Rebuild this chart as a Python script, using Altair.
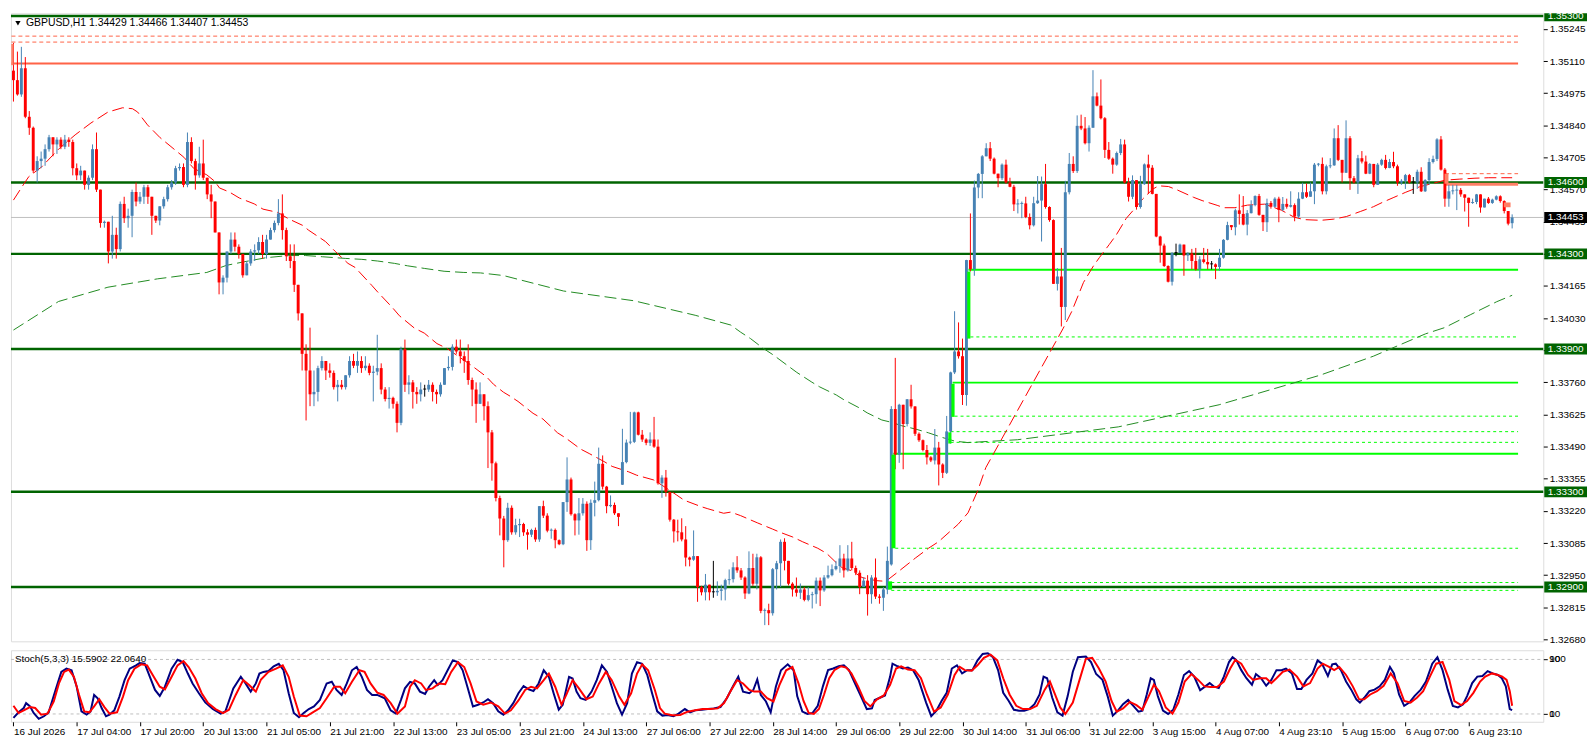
import altair as alt
import pandas as pd

# ---------------- data (prices in pips above 1.3000) ----------------
CLOSE = [
503,497,508,487.6,483,465,469,470,474,479,476,478,475,478,477,466,463,465,459,462,
474,457,443,443.5,431,438,432,451,445,446,456,452,454,458,454,446,444,450,453,458,
460,466,466.5,459,477,469,463,468,462,455,452,439,418,420,431,436,433,430,421,426,
431,431.5,435,430,436,440,443,447,440,429,427,417,405,388,381,371,372,382,385,381,
380,374,375,374,379,385,383,385,382,383,380,380.5,382,373,369,369.5,367,359,390,375,
376,372,371,373,373,375,372,371,375,382,382.5,391,389,387,385,377,373,367,371,366,
355,342,327.4,318.8,309.7,323.3,313,316,316.5,313,312,314,310,324,320,313.7,314,309.7,308,325.7,
335.2,320.6,318,321,325,309.7,325.4,326.5,341.8,332.2,324,324.5,321,319.5,342.5,350.7,351,363.4,354,352,
350.6,352,349,333.6,336,330,318.3,313.4,313,310,302.4,301.5,303,290,287.8,291,287.8,287.8,288.4,289,
292.9,293.3,298.3,297,294,287.3,298,291.4,302.5,280,280.3,279,297.5,300,309,301,291.4,289,287.6,289,
284.6,286.6,287,292.7,288.6,294,295,297.5,298.8,302,297,302,298,296,290,292.7,287,294,286,285.5,
289,301,364.8,345.6,366.6,358.5,368.9,365.9,354.4,351.7,347.6,344.5,343.2,348.6,341.5,338,355.4,380.2,389,387,
370.7,427.4,423.6,457.9,463.6,471,474.4,470,463.7,461.8,467.5,460,458.2,450.8,451,451.2,445.5,442,451.3,452.4,
459.3,449.7,444.2,417.4,420.5,407.7,455.9,467.8,464.8,483.8,482.7,476.5,483,496.2,492.3,487,473.7,470,467.5,472.4,
476,460,454,461,449.7,459.3,467.6,466.2,455.2,437.3,433.5,424.9,418.3,430.4,430.4,433.9,429.3,430.2,427,423.5,
427.7,426.6,425.6,425.6,424.5,428.4,435.9,442.1,441.2,448.3,446.8,442.3,447.1,450.5,454.3,446.4,443.3,451.4,449.8,453.2,
448.5,451,449.8,450.5,445.7,453.2,455.9,454,456.3,467.5,467.8,456.3,466.8,467.2,478.6,469.5,464.1,478.6,461.8,460,
470.2,468.8,463.7,467.8,459,467.5,469.5,466.1,468.6,466.8,460,460.7,463.1,460,460,464.5,456.3,461,468.6,469.9,
478.1,465.4,453.2,456.3,456.6,456.9,455,453.6,451.4,451.8,455,449.5,453.2,451.4,452.8,454.2,452.2,448,442.7,445.3]

HIGH = [
518.6,515,517,512.7,490,483.5,471,473,476,480,479,479,479,480,479,478,468,467,465,463,
476,481,457,444,443,446,441,452,454,449,457,460,456,459,459,454,446,450,454,459,
461,467,468,468,481,479,470,475,478,462,459,452,439,421,431,439,439,434,429,427,
432,434,437,438,438,441,444,453,455,441,434,434,417,405,392,399,381,383,387,385,
384,381,377,377,379,387,388,389,387,387,384,383,396,384,374,374,370,368,391,394,
379,377,374,376,375,377,376,373,376,382,387,392,394,394,389,392,378,376,376,371,
368,356,342.7,328.4,319.9,325.4,324.3,318.7,318.7,317,314.3,314.5,315,324,326.3,321,314.6,314.6,310,325.7,
344.5,336,321,327.4,327.4,326,326.8,334.3,348.6,345.3,332.5,328.5,325.5,320.5,356.5,352,363.6,363.7,363.7,356,
352.5,355,361.5,352,337,339.2,330,318.6,318.3,318.9,315.6,302.8,313.8,303,290.5,295.5,291,301,292.4,291,
293.5,297.4,300.4,303,298,294.5,305,304,304,303,281,283,298,301,310,310.5,301,292,294,291.5,
290,290,288,294,294,295,299,299.5,301,307.6,304,307.6,309,299,297,294,295,295,302,287,
290,307,366,386.3,367,366.6,369,375,366,355,352,349.7,345,356.4,351,342,361.9,380.5,405.9,401.2,
394.4,427.5,447,460.8,464,471.5,476.5,477,470.5,463.7,468,469.6,462,459,453,452,454,447,454,462.7,
462.5,467.8,450,444.5,424,432.5,460.7,472.4,471,488.2,488.5,487.5,484,507.2,497.8,503.3,487.5,477,470.5,473,
478.3,478,462,463,454.5,462.8,468,471.7,467.3,455.2,437.6,434.3,425.2,430.7,434.3,434.3,432.5,430.7,432.1,432.5,
429,432.5,432.1,427,426,432.1,436.2,443.5,442.1,449,455,454.3,448.4,452.5,454.6,455.2,446.4,453.2,452.2,453.8,
454,453.9,453.2,456.3,451.2,455.9,459.9,459.6,460,468.2,468.2,470.5,467.5,470.2,482.7,484.1,469.5,486.1,479.5,462.7,
471.6,473.2,471.3,468.2,467,468.2,470,471.6,469.9,472.9,467.5,461.4,463.6,463.6,462.3,465.4,466.4,461.4,470.2,471.3,
478.6,479.5,466.1,459,459,459,457.7,455,453.2,453.2,455.2,455,453.2,453.9,453.2,454.6,454.6,452.5,448,446.6]

LOW = [
494,496.5,496,487,480,464,460,466,467,473,471,472,474,474,475,463,461,461,457,457,
461,456,441,441,426,428,428,431,443,441,437,450,451,451,451,438,443,442,449,452,
457,459,465,458,458,468,457,462,461,453,445,439,413,413,418,430,431,428,420,422,
425,427,430,428,428,436,439,442,436,427,424,414,402,381,360,366,366,368,381,377,
378,373,368,373,373,378,382,380,380,381,379,368,379,371,368,365,365,355,358,372,
371,365,367,368,370,372,368,367,370,375,381,381,388,384,380,375,366,359,367,360,
340,334.7,326,311.7,298.3,309,312,312,311,311.5,305.7,311,309,309,319,313,310.3,306.3,307.6,307.6,
321.6,320,311.7,312,320,305.2,305.6,319.7,326,331,321,323.5,320.3,315.6,332.9,342,350,350.5,353.7,351,
349.6,349.3,348.5,333,327.5,328,317.5,308.7,309.2,309.2,298.7,298.7,301,283.8,286.5,284.4,284.4,285.5,286.3,284.4,
284.4,291,291.9,296,293,285,287,290.5,289,279,274,274,278,289,290,297,290.7,286,286,285,
284,284,281,283,282,288,293.5,294.5,297,296,294,296.5,297,295,287,290,278,283,285,283,
280,287,299,339.5,342.2,339.5,357.5,365,353.5,351,347,341.5,342.5,341.5,332.7,335.8,337.5,350.3,379.5,386,
366.5,366.2,422.6,420.8,453.4,453.4,473,469,463.4,458,461,459.5,458,448,447,445,445,440.3,441.5,451,
435.2,449,443.5,417.4,414.6,399.5,402.2,455,464,464,482,476,473,483,492,486.5,470.3,469.5,463.7,467,
471.5,459.5,452,453,448.6,449,459,455.2,455,437,426.3,424.5,418,416.7,429,430.4,420.8,427,423.5,423,
419.7,426,423.5,423.5,419.4,422.9,428,435.7,440,437.8,442.3,442,437.8,447,450,446,439.6,439.2,449,449.5,
443.3,448,449,449.5,443.7,445,453,453.5,454,450.9,466.8,455,455,466,467,469,460,464,456.9,459.5,
455.2,468,463.5,463.5,458,459,467,465.5,466,466,458.6,459,457.3,459.5,455.2,457.3,456,456,459,468,
469,465,449.8,449.8,455,448.4,454,447.8,441.4,451,450.9,447.3,449.5,451,451,452.5,451.5,447,442,440.7]

OPEN_AT = {0: 507.0, 154: 333.0, 222: 299.5, 379: 442.9}   # opens that differ from previous close

# moving averages: (bar, pips)
MA_RED = [(0,452.6),(2.6,459.3),(3.9,462.5),(7.1,466.5),(11.4,474),(15.6,480),(19.6,485),(23.9,489.6),
(27.6,491.4),(30.1,491),(31.4,489.6),(33.9,484.2),(37.1,478.8),(39.6,475.4),(43.1,470.6),(45.6,465.9),
(48.9,463.2),(50.9,460.5),(52.1,457.7),(54.6,456),(57.1,453.5),(60.9,451),(63.1,448.8),(66.9,447.4),
(69.6,444.7),(73.1,442),(74.6,440),(78.9,435.2),(81.4,431),(84.6,426),(86.4,424.3),(90.6,416.8),
(92.1,414),(95.9,407.3),(97.6,404),(101.4,398.8),(103.9,396.7),(107.1,392.3),(109.6,390.3),(115.6,383.4),
(119.6,378.4),(121.4,375.2),(123.9,371.9),(125.6,370.2),(127.6,368),(131.4,363),(133.9,360.6),(137.6,354.8),
(139.6,352.7),(143.4,348),(145.6,346.1),(149.6,342.5),(151.4,340.7),(155.6,338.4),(157.6,337),(161.9,335),
(163.9,332.9),(167.6,328.8),(169.6,326.5),(173.9,323.8),(175.6,322.9),(179.6,321),(181.4,321.5),(183.9,320),
(188.1,317),(191.9,314.4),(193.9,313),(197.1,311),(199.6,309),(203.4,306.3),(205.6,304.2),(208.1,300.2),
(209.6,298.1),(212.1,296.8),(214.6,294),(218.1,292.7),(220.6,292.4),(223.4,296),(228.1,302.2),(231.4,306.3),
(233.9,309),(238.9,316.4),(241.4,321.2),(243.9,330.7),(245.9,340.2),(265.4,398.5),(267.6,405.7),(270.6,418),
(273.1,424.9),(274.6,428.4),(277.1,433.9),(278.9,438),(281.4,444.9),(283.9,449.7),(285.6,453.1),(288.1,457.2),
(289.6,458.6),(292.1,458.3),(294.4,456.8),(298.4,453.8),(300.6,452.4),(304.4,450.4),(306.1,449.4),(308.9,449.4),
(312.1,450.5),(316.4,450.9),(320.6,448.4),(323.9,445.4),(326.4,444.4),(330.6,444.1),(333.9,444.6),(337.1,445.7),
(340.6,447.8),(343.9,449.8),(346.4,451.8),(348.9,453.6),(352.1,455.9),(355.6,458.2),(358.9,459.6),(362.1,461),
(365.6,461.4),(369.6,461.8),(373.1,462),(379,462)]

MA_GREEN = [(0,398),(11.4,410),(23.9,416),(36.4,419.5),(48.9,422.2),(53.9,425.2),(58.1,426.6),(63.9,428.4),
(69.6,429.3),(73.9,429.3),(78.1,428.8),(83.9,428.1),(88.1,427.7),(92.1,427),(96.4,426),(99.6,425),
(103.9,423.9),(108.9,422.7),(113.9,422.2),(118.1,422),(123.9,420.9),(139.1,414.4),(156.9,410.3),(172.4,404.2),
(181.4,400.1),(183.9,397.1),(186.4,394.4),(189.6,390.3),(192.1,387.6),(195.9,382.9),(198.1,380.2),(201.9,376.1),
(203.9,374.1),(208.1,370.7),(210.1,368.6),(213.9,365.3),(215.9,363.2),(219.6,360.2),(222.1,359.2),(224.6,357.8),
(228.1,356.4),(231.4,354.8),(234.6,353),(238.1,351.3),(241.4,350.7),(253.9,351.9),(279.4,357.3),(304.9,366.6),
(330.4,379),(343.9,387),(357.1,396.4),(361.9,399),(368.4,404.4),(375.1,409.9),(379,412.6)]

STOCH_K = [(0,4.2),(1.3,12.4),(2.6,18.7),(3.2,25.9),(4.2,21.1),(5.1,11.4),(6.4,2.8),(7.7,6.6),(8.9,12.4),
(10.9,50),(12.1,71.7),(13.4,76.5),(14.7,74.1),(16,50),(17.2,13.8),(18.5,9),(19.5,13.8),(20.4,37.9),(21.3,33.1),
(22.3,18.7),(23.4,6.6),(24.3,9),(25.5,15.3),(26.8,35.5),(28.1,59.6),(29.4,76.5),(31,81.3),(31.9,84.7),(33.2,83.7),
(34.5,64.5),(35.8,45.2),(37,36.5),(38.3,50),(40,76.5),(41.5,89.5),(42.8,86.1),(44.1,69.3),(45.3,54.8),(46.9,40.4),
(48.5,26.9),(50.4,17.2),(52.4,10.5),(53.6,13.8),(55.6,47.6),(57.5,64.5),(58.7,54.8),(60,42.8),(61.3,54.8),
(62.2,69.3),(63.2,71.7),(64.5,73.1),(65.8,79.9),(67.1,83.7),(68.3,74.1),(69.6,40.4),(70.9,11.4),(72.2,5.2),
(73.4,11.4),(74.7,17.2),(76,21.1),(77.5,30.7),(79.2,54.8),(80.5,57.2),(81.7,45.2),(83,37.9),(84.3,54.8),
(85.6,74.1),(86.8,78.9),(88.1,64.5),(89.4,45.2),(90.7,37.9),(92,37.9),(93.9,33.1),(95.4,15.3),(96.7,10.5),
(98,30.7),(99,47.6),(100.3,57.2),(101.5,54.8),(102.8,42.8),(104.1,39.4),(105.1,50),(106.4,59.6),(107.3,52.4),
(108.5,59.6),(109.8,74.1),(111.1,88.6),(112.4,86.1),(113.6,74.1),(114.9,47.6),(116.2,21.1),(117.5,23.5),
(118.8,26.9),(120,31.7),(121.3,25.9),(122.6,13.8),(123.9,9),(125.1,15.3),(126.4,25.9),(127.7,40.4),(129,51),
(130.3,46.1),(131.5,43.7),(132.8,54.8),(134.1,74.1),(135.4,64.5),(136.6,40.4),(137.9,16.3),(138.9,23.5),
(140.5,64.5),(141.4,62),(142.4,42.8),(143.4,33.1),(144.7,30.7),(146.2,42.8),(147.5,59.6),(148.8,81.3),
(150.1,71.7),(151.3,50),(152.6,25.9),(153.9,9),(155.2,25.9),(156.4,69.3),(157.7,86.1),(159,83.7),(160.3,66.9),
(161.5,40.4),(162.8,13.8),(164.1,7.6),(165.4,8.5),(166.9,6.6),(168.2,10.5),(169.8,17.2),(171.1,12.4),
(172.4,15.3),(174.1,16.3),(175.6,17.2),(177.1,18.2),(178.8,20.1),(180.4,33.1),(182,51),(183.3,64.5),
(184.5,42.8),(186.1,40.4),(187.1,45.2),(188.1,60.6),(189,37.9),(190.3,28.3),(191.5,12.4),(192.8,50),
(194.1,74.1),(195.8,82.8),(197.3,74.1),(198.2,36.2),(199.5,13.4),(200.8,10),(202.1,11.5),(203.4,21.9),
(204.7,50.5),(206,74.3),(207.3,76.7),(208.7,80),(210,81.4),(211.3,74.3),(212.6,57.6),(214.5,33.8),(215.8,17.2),
(217.1,18.1),(217.8,30.5),(219.1,33.8),(220.4,37.2),(221.7,64.8),(222.3,83.8),(223.6,80),(224.9,76.7),
(226.2,78.1),(227.5,74.3),(228.9,60),(230.8,26.7),(232.1,6.7),(233.4,14.8),(234.7,29),(236,41),(237.3,76.7),
(238.6,81.4),(239.9,69.5),(241.2,74.3),(242.5,74.3),(243.8,88.6),(245.1,98.1),(246.4,99),(247.7,93.3),
(249,74.3),(250.3,41),(251.7,29),(253,16.2),(254.3,14.8),(255.6,14.8),(256.9,17.2),(258.2,24.3),(259.5,38.6),
(260.5,64.8),(261.4,62.4),(262.7,33.8),(264,12.4),(265.3,7.6),(266.6,36.2),(267.9,71.9),(269.2,93.3),
(271.2,94.3),(272.5,86.2),(273.8,68.6),(275.4,60),(276.7,36.2),(278,7.6),(279.3,14.8),(280.6,24.3),
(281.9,30.5),(283.2,21.9),(284.5,13.4),(285.5,14.8),(286.6,38.6),(287.6,62.4),(288.4,60),(289.4,36.2),
(290.7,14.8),(292,10),(293.3,16.2),(294.6,38.6),(296,67.2),(297.3,72.9),(298.6,64.8),(300.1,44.8),
(301.4,50.5),(302.5,55.3),(303.5,50.5),(304.8,48.1),(306.1,64.8),(307.4,86.2),(308.3,93.3),(309.2,89.5),
(310.5,74.3),(311.8,62.4),(313.2,52.9),(314.2,68.6),(315.5,62.4),(316.8,51.4),(318.1,60),(319.4,74.3),
(320.7,74.3),(321.8,76.7),(323.3,69.5),(324.6,46.7),(325.7,46.7),(327,60),(328.5,69.5),(329.8,88.6),
(330.9,83.8),(332.4,65.7),(333.5,82.9),(334.4,83.8),(335.7,74.3),(337,57.6),(338.3,45.7),(339.6,31.4),
(340.5,26.7),(341.6,33.8),(342.9,43.4),(344.2,45.7),(345.5,50.5),(346.8,60),(348.1,79),(349.1,69.5),
(350.4,38.6),(351.7,21.9),(353,26.7),(354.3,36.2),(355.9,45.7),(357.2,57.6),(358.8,83.8),(360.1,93.3),
(361.4,74.3),(362.7,45.7),(364,21.9),(365.3,19.6),(366.6,24.3),(367.6,36.2),(368.9,55.3),(370.2,64.8),
(371.5,65.7),(372.8,72.9),(374.1,69.5),(375.4,67.2),(376.4,62.4),(377.4,50.5),(378.4,17.2),(379,15.6)]

STOCH_D = [(0,22),(1.3,11.4),(2.6,15.3),(4.2,20.1),(5.5,18.7),(7,9),(8.6,10.5),(10.2,28.3),(11.5,54.8),
(12.8,71.7),(14,75.1),(15.3,64.5),(16.6,37.9),(17.9,13.8),(19.2,12.4),(20.4,21.1),(21.7,31.7),(23,20.1),
(24.3,10.5),(26.2,12.4),(27.7,35.5),(29,59.6),(30.6,76.5),(32.3,82.8),(33.8,81.3),(35.4,65.4),(37,50),
(38.3,46.1),(40,64.5),(41.5,81.3),(43,87.6),(44.3,78.9),(46,62),(47.6,40.4),(49.2,25.9),(51.1,17.2),
(53,11.4),(54.5,16.3),(56.2,37.9),(58.1,59.6),(59.6,52.4),(61.3,42.8),(62.6,60.6),(64.5,71.7),(66.4,76.5),
(68.1,81.3),(69.6,64.5),(70.9,35.5),(72.4,7.6),(74.1,6.6),(75.7,12.4),(77.5,18.7),(79.2,33.1),(81.1,50),
(82.6,50),(83.9,40.4),(85.6,57.2),(87.5,74.1),(88.8,71.7),(90.3,54.8),(92,41.3),(93.6,37.9),(95.4,25.9),
(97.1,10.5),(99,21.1),(100.3,50),(101.5,59.6),(103.1,54.8),(104.3,45.2),(106,47.6),(107.6,54.8),(109.2,53.8),
(110.7,71.7),(112.4,86.1),(114,78.9),(115.6,54.8),(117.1,28.3),(118.8,23.5),(120.7,26.9),(122.6,21.1),
(124.3,10.5),(125.8,15.3),(127.7,29.8),(129.4,45.2),(130.9,50),(132.4,47.6),(134.1,59.6),(135.4,69.3),
(137,50),(138.6,23.5),(139.8,37.9),(141.4,59.6),(143,47.6),(144.9,31.7),(146.5,35.5),(148.1,54.8),
(149.8,71.7),(151.3,59.6),(153.2,35.5),(154.5,23.5),(156.2,40.4),(157.7,69.3),(159,82.8),(160.5,74.1),
(162.2,45.2),(163.5,18.7),(164.7,10.5),(166.6,8.1),(168.6,8.5),(170.5,13.4),(172.4,15.3),(174.3,17.2),
(176.2,17.2),(178.1,18.2),(179.7,25.9),(181.3,42.8),(183,59.6),(184.5,54.8),(186.1,45.2),(187.3,42.8),
(189,42.8),(190.6,33.1),(192.2,28.3),(193.7,52.4),(195.4,74.1),(197,78.9),(198.5,55.3),(199.8,29),
(201.1,11.5),(202.4,10),(203.7,17.2),(205,38.6),(206.3,62.4),(207.6,74.3),(209.3,80),(210.6,78.1),
(211.9,69.5),(213.6,50.5),(215.2,29),(216.7,21),(218.4,31.4),(220.1,37.2),(221.7,52.9),(223.2,76.7),
(224.5,80),(226.2,75.2),(227.9,74.3),(229.5,62.4),(231,38.6),(232.8,13.4),(234.5,19.6),(236.3,38.6),
(238,67.2),(239.3,79),(240.6,74.3),(242.3,73.3),(243.8,81.4),(245.4,92.4),(247.1,97.1),(248.8,88.6),
(250.3,62.4),(251.9,38.6),(253.6,21.9),(255.3,17.2),(257.1,17.2),(258.8,21.9),(260.8,45.7),(262.1,57.6),
(263.4,38.6),(264.7,19.6),(266,10),(267.9,26.7),(269.6,60),(271.2,91),(272.8,92.4),(274.5,76.7),(276.2,57.6),
(277.7,29),(279,13.4),(280.6,18.1),(282.3,27.6),(284,22.9),(285.5,16.2),(287.1,36.2),(288.4,52.9),
(289.7,43.4),(291.4,19.6),(293.1,10.5),(294.6,26.7),(296.2,57.6),(297.9,68.6),(299.6,60),(301.2,50.5),
(302.7,49.5),(304.4,49.5),(306.1,57.6),(307.7,76.7),(309,89.5),(310.5,83.8),(312.2,67.2),(313.5,60),
(315.2,62.4),(316.8,62.4),(318.1,55.3),(319.4,62.4),(321,71.9),(322.7,75.2),(324.6,64.8),(326.2,50.5),
(327.9,55.3),(329.8,76.7),(331.1,83.8),(332.7,79),(334,74.3),(335.3,79),(337,67.2),(338.7,50.5),(340.3,31.4),
(341.6,31.4),(343.1,38.6),(344.8,43.4),(346.5,51.4),(348.3,69.5),(350,55.3),(351.7,29),(353.3,26.7),
(354.9,33.8),(356.5,43.4),(358.2,64.8),(359.8,83.8),(361.4,86.2),(363.1,60),(364.4,29),(366.1,22.9),
(367.6,29),(369.2,41),(370.9,57.6),(372.2,64.8),(373.9,69.5),(375.4,67.2),(376.5,64.8),(377.6,60),
(378.4,43.4),(379,22.1)]

LEVELS = [1.3530, 1.3460, 1.3430, 1.3390, 1.3330, 1.3290]
CURRENT = 1.34453
RED_LINE = 1.3510
RED_DASHED = [1.35215, 1.35190]
# lime imbalance lines: (start bar, price, style)
LIME_LINES = [(222, 1.32919, "dash"), (222, 1.32886, "dash"), (222.5, 1.33460, "solid"),
              (223, 1.33063, "dash"), (237, 1.33553, "dash"), (237, 1.33508, "dash"),
              (237.5, 1.33759, "solid"), (238, 1.33618, "dash"), (241.5, 1.34233, "solid"),
              (242, 1.33951, "dash")]
LIME_BOXES = [(221.2, 222.2, 1.32924, 1.32889), (222.05, 223.05, 1.33456, 1.33063),
              (236.4, 237.2, 1.33550, 1.33503), (237.2, 238.0, 1.33754, 1.33615),
              (241.2, 242.0, 1.34226, 1.33944)]
SALMON_BOXES = [(-0.55, 0.05, 1.35182, 1.35093), (361.9, 362.9, 1.34637, 1.34595),
                (376.9, 378.6, 1.34516, 1.34496)]
SALMON_LINE = (362, 1.34593)
SALMON_DASH = (362, 1.34637)
LINES_END = 380

PRICE_TICKS = [1.32680, 1.32815, 1.32950, 1.33085, 1.33220, 1.33355, 1.33490, 1.33625, 1.33760,
               1.33895, 1.34030, 1.34165, 1.34300, 1.34435, 1.34570, 1.34705, 1.34840, 1.34975,
               1.35110, 1.35245]
TIME_TICKS = [0, 16, 32, 48, 64, 80, 96, 112, 128, 144, 160, 176, 192, 208, 224, 240, 256, 272,
              288, 304, 320, 336, 352, 368]
TIME_LABELS = ["16 Jul 2026", "17 Jul 04:00", "17 Jul 20:00", "20 Jul 13:00", "21 Jul 05:00",
               "21 Jul 21:00", "22 Jul 13:00", "23 Jul 05:00", "23 Jul 21:00", "24 Jul 13:00",
               "27 Jul 06:00", "27 Jul 22:00", "28 Jul 14:00", "29 Jul 06:00", "29 Jul 22:00",
               "30 Jul 14:00", "31 Jul 06:00", "31 Jul 22:00", "3 Aug 15:00", "4 Aug 07:00",
               "4 Aug 23:10", "5 Aug 15:00", "6 Aug 07:00", "6 Aug 23:10"]
STOCH_AXIS = [(90, "100"), (90, "90"), (10, "10"), (10, "0")]   # MT4 draws these pairs on top of each other
TITLE = "GBPUSD,H1  1.34429 1.34466 1.34407 1.34453"
STOCH_TITLE = "Stoch(5,3,3) 15.5902 22.0640"

# ---------------- layout ----------------
W = 1542
H_MAIN = 632
H_STOCH = 72
FONT = "Liberation Sans"
Y_TOP = 1.35311
XS = alt.Scale(domain=[-0.625, 386.875], nice=False, zero=False)
YS = alt.Scale(domain=[1.32672, Y_TOP], nice=False, zero=False)
SS = alt.Scale(domain=[-1.5, 103.5], nice=False, zero=False)

def pr(p):
    return 1.3 + p / 10000.0

rows = []
prev = None
for i, (c, h, l) in enumerate(zip(CLOSE, HIGH, LOW)):
    o = OPEN_AT.get(i, prev if prev is not None else c)
    d = "up" if c > o else ("down" if c < o else "doji")
    top, bot = max(o, c), min(o, c)
    if top - bot < 0.4:
        top = bot + 0.4
    rows.append(dict(i=i, i0=i - 0.37, i1=i + 0.37, h=pr(max(h, o, c)), l=pr(min(l, o, c)),
                     bt=pr(top), bb=pr(bot), dir=d))
    prev = c
candles = pd.DataFrame(rows)

CCOL = alt.Color("dir:N", scale=alt.Scale(domain=["up", "down", "doji"],
                 range=["#4682B4", "#FF0000", "#000000"]), legend=None)

YAX = alt.Axis(orient="right", values=PRICE_TICKS, format=".5f", title=None, grid=False,
               domain=False, tickSize=4, tickColor="#000000", labelColor="#000000",
               labelFont=FONT, labelFontSize=10, labelPadding=2, labelOverlap=False)

def Y(field):
    return alt.Y(field, type="quantitative", scale=YS, axis=YAX)

def X(field):
    return alt.X(field, type="quantitative", scale=XS, axis=None)

cur_df = pd.DataFrame({"y": [CURRENT]})
layers = []
layers.append(alt.Chart(cur_df).mark_rule(color="#C0C0C0", strokeWidth=1).encode(y=Y("y")))

lev_df = pd.DataFrame({"y": LEVELS})
layers.append(alt.Chart(lev_df).mark_rule(color="#006400", strokeWidth=2.5).encode(y=Y("y")))

red_df = pd.DataFrame({"x0": [-0.5], "x1": [LINES_END + 0.5], "y": [RED_LINE]})
layers.append(alt.Chart(red_df).mark_rule(color="#FF6347", strokeWidth=2).encode(
    x=X("x0"), x2="x1", y=Y("y")))
redd_df = pd.DataFrame({"x0": [-0.5] * 2, "x1": [LINES_END + 0.5] * 2, "y": RED_DASHED})
layers.append(alt.Chart(redd_df).mark_rule(color="#FF6347", strokeWidth=1, strokeDash=[4, 3]).encode(
    x=X("x0"), x2="x1", y=Y("y")))

sal_df = pd.DataFrame({"x0": [SALMON_LINE[0]], "x1": [LINES_END + 0.5], "y": [SALMON_LINE[1]]})
layers.append(alt.Chart(sal_df).mark_rule(color="#FF7F66", strokeWidth=3).encode(
    x=X("x0"), x2="x1", y=Y("y")))
sald_df = pd.DataFrame({"x0": [SALMON_DASH[0]], "x1": [LINES_END + 0.5], "y": [SALMON_DASH[1]]})
layers.append(alt.Chart(sald_df).mark_rule(color="#FF6347", strokeWidth=1, strokeDash=[4, 3]).encode(
    x=X("x0"), x2="x1", y=Y("y")))

lime_df = pd.DataFrame([dict(x0=s, x1=LINES_END + 0.5, y=p, st=t) for s, p, t in LIME_LINES])
layers.append(alt.Chart(lime_df[lime_df.st == "solid"]).mark_rule(color="#00FF00", strokeWidth=2).encode(
    x=X("x0"), x2="x1", y=Y("y")))
layers.append(alt.Chart(lime_df[lime_df.st == "dash"]).mark_rule(color="#00FF00", strokeWidth=1,
              strokeDash=[3, 3]).encode(x=X("x0"), x2="x1", y=Y("y")))

mar = pd.DataFrame([dict(b=b, y=pr(p)) for b, p in MA_RED])
layers.append(alt.Chart(mar).mark_line(color="#FF0000", strokeWidth=1, strokeDash=[12, 5]).encode(
    x=X("b"), y=Y("y")))
mag = pd.DataFrame([dict(b=b, y=pr(p)) for b, p in MA_GREEN])
layers.append(alt.Chart(mag).mark_line(color="#228B22", strokeWidth=1, strokeDash=[12, 5]).encode(
    x=X("b"), y=Y("y")))

layers.append(alt.Chart(candles).mark_rule(strokeWidth=1).encode(
    x=X("i"), y=Y("l"), y2="h", color=CCOL))
layers.append(alt.Chart(candles).mark_rect().encode(
    x=X("i0"), x2="i1", y=Y("bb"), y2="bt", color=CCOL))

lb = pd.DataFrame([dict(x0=a, x1=b, y0=c, y1=d) for a, b, c, d in LIME_BOXES])
layers.append(alt.Chart(lb).mark_rect(color="#00FF00").encode(x=X("x0"), x2="x1", y=Y("y0"), y2="y1"))
sb = pd.DataFrame([dict(x0=a, x1=b, y0=c, y1=d) for a, b, c, d in SALMON_BOXES])
layers.append(alt.Chart(sb).mark_rect(color="#FF7F66").encode(x=X("x0"), x2="x1", y=Y("y0"), y2="y1"))

# price tags on the right axis
HALF = 0.00023
lvl_tags = pd.DataFrame([dict(y=v, y0=v - HALF, y1=min(v + HALF, Y_TOP), lab=f"{v:.5f}") for v in LEVELS])
cur_tags = pd.DataFrame([dict(y=CURRENT, y0=CURRENT - HALF, y1=CURRENT + HALF, lab=f"{CURRENT:.5f}")])
layers.append(alt.Chart(lvl_tags).mark_rect(color="#006400").encode(
    x=alt.value(W + 1), x2=alt.value(W + 44), y=Y("y0"), y2="y1"))
layers.append(alt.Chart(cur_tags).mark_rect(color="#000000").encode(
    x=alt.value(W + 1), x2=alt.value(W + 44), y=Y("y0"), y2="y1"))
for tdf in (lvl_tags, cur_tags):
    layers.append(alt.Chart(tdf).mark_text(color="white", font=FONT, fontSize=10, align="center",
                                           baseline="middle").encode(
        x=alt.value(W + 22.5), y=Y("y"), text="lab:N"))

ttl = pd.DataFrame({"t": [TITLE]})
layers.append(alt.Chart(ttl).mark_point(shape="triangle-down", filled=True, color="#000000",
                                        size=28, opacity=1).encode(x=alt.value(7), y=alt.value(10)))
layers.append(alt.Chart(ttl).mark_text(font=FONT, fontSize=10.5, align="left", baseline="middle",
                                       color="#000000").encode(
    x=alt.value(15), y=alt.value(10), text="t:N"))

main = alt.layer(*layers).properties(width=W, height=H_MAIN)

# ---------------- stochastic panel ----------------
XAX = alt.Axis(orient="bottom", values=TIME_TICKS, title=None, grid=False, domain=False,
               tickSize=4, tickColor="#000000", labelColor="#000000", labelFont=FONT,
               labelFontSize=10, labelAlign="left", labelPadding=1, labelOverlap=False,
               labelFlush=False,
               labelExpr="[" + ",".join("'" + s + "'" for s in TIME_LABELS) + "][round(datum.value/16)]")
SAX = alt.Axis(orient="right", values=[10, 90], title=None, grid=False, labels=False,
               domain=False, tickSize=4, tickColor="#000000")

def SY(field):
    return alt.Y(field, type="quantitative", scale=SS, axis=SAX)

def SX(field):
    return alt.X(field, type="quantitative", scale=XS, axis=XAX)

lv = pd.DataFrame({"v": [90, 10], "x0": [-0.625, -0.625], "x1": [386.875, 386.875]})
kd = pd.DataFrame([dict(b=b, v=v) for b, v in STOCH_K])
dd = pd.DataFrame([dict(b=b, v=v) for b, v in STOCH_D])
sa = pd.DataFrame([dict(v=v, t=t) for v, t in STOCH_AXIS])
st = pd.DataFrame({"t": [STOCH_TITLE]})
stoch = alt.layer(
    alt.Chart(lv).mark_rule(color="#C0C0C0", strokeWidth=1, strokeDash=[3, 3]).encode(
        x=SX("x0"), x2="x1", y=SY("v")),
    alt.Chart(kd).mark_line(color="#000080", strokeWidth=2).encode(x=SX("b"), y=SY("v")),
    alt.Chart(dd).mark_line(color="#FF0000", strokeWidth=2).encode(x=SX("b"), y=SY("v")),
    alt.Chart(sa).mark_text(font=FONT, fontSize=10, align="left", baseline="middle",
                            color="#000000").encode(x=alt.value(W + 6), y=SY("v"), text="t:N"),
    alt.Chart(st).mark_text(font=FONT, fontSize=10, align="left", baseline="middle",
                            color="#000000").encode(x=alt.value(4), y=alt.value(9), text="t:N"),
).properties(width=W, height=H_STOCH)

chart = alt.vconcat(main, stoch, spacing=3, padding=0).configure_view(
    stroke="#000000", strokeWidth=1).configure(background="white")

chart.save("out.html", embed_options={"renderer": "svg", "actions": False})
